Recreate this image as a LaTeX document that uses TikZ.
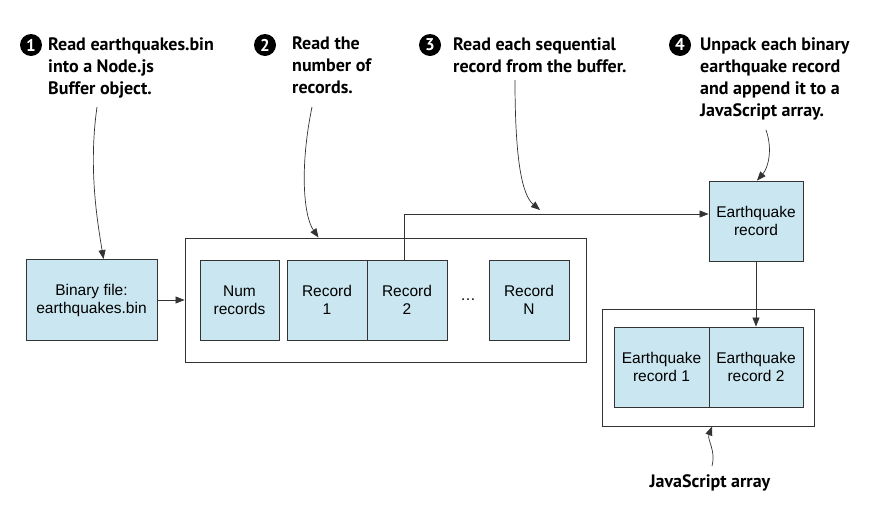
\documentclass[tikz,border=0pt]{standalone}
\usepackage{fontspec}
\setmainfont{Liberation Sans}
\newfontfamily\annfont{PT Sans}
\usetikzlibrary{arrows.meta}
\definecolor{boxblue}{HTML}{CAE6F0}
\definecolor{edgegray}{HTML}{333333}
\begin{document}
\begin{tikzpicture}[x=1pt,y=-1pt,
  bluebox/.style={draw=edgegray, fill=boxblue, line width=0.9pt, align=center, inner sep=0pt,
    font=\fontsize{15.5}{18}\selectfont},
  outerbox/.style={draw=edgegray, line width=0.9pt, inner sep=0pt},
  arr/.style={-{Triangle[length=9pt,width=7pt]}, line width=0.7pt, draw=edgegray},
  ann/.style={font=\annfont\bfseries\fontsize{18}{22}\selectfont, align=left, anchor=north west, inner sep=0pt},
  num/.style={circle, fill=black, text=white, inner sep=0pt, minimum size=22pt,
    font=\annfont\bfseries\fontsize{17}{17}\selectfont}]
\useasboundingbox (0,0) rectangle (872,512);

% boxes
\node[bluebox, minimum width=131pt, minimum height=81pt] (bin) at (91.5,300) {Binary file:\\earthquakes.bin};
\node[outerbox, minimum width=401pt, minimum height=124pt] (buf) at (385.5,300) {};
\node[bluebox, minimum width=79pt, minimum height=80pt] (num) at (239.5,300) {Num\\records};
\node[bluebox, minimum width=80pt, minimum height=80pt] (rec1) at (327,300) {Record\\1};
\node[bluebox, minimum width=80pt, minimum height=80pt] (rec2) at (407,300) {Record\\2};
\node[font=\fontsize{15.5}{18}\selectfont] (dots) at (468,300) {\ldots};
\node[bluebox, minimum width=80pt, minimum height=80pt] (recn) at (529,300) {Record\\N};

\node[bluebox, minimum width=94pt, minimum height=80pt] (eq) at (756,221) {Earthquake\\record};
\node[outerbox, minimum width=212pt, minimum height=117pt] (arr) at (708,367.5) {};
\node[bluebox, minimum width=95pt, minimum height=80pt] (eq1) at (661.5,367) {Earthquake\\record 1};
\node[bluebox, minimum width=94pt, minimum height=80pt] (eq2) at (756,367) {Earthquake\\record 2};

% connectors
\draw[arr] (bin.east) -- (buf.west);
\draw[arr] ([xshift=-3pt]rec2.north) |- ([yshift=7pt]eq.west);
\draw[arr] (eq.south) -- (eq2.north);

% annotations
\node[num] (n1) at (31,45) {1};
\node[ann] (a1) at (48,37) {Read earthquakes.bin\\into a Node.js\\Buffer object.};
\node[num] (n2) at (265,45) {2};
\node[ann] (a2) at (292,37) {Read the\\number of\\records.};
\node[num] (n3) at (430,45) {3};
\node[ann] (a3) at (453,37) {Read each sequential\\record from the buffer.};
\node[num] (n4) at (680,45) {4};
\node[ann] (a4) at (700,37) {Unpack each binary\\earthquake record\\and append it to a\\JavaScript array.};
\node[font=\annfont\bfseries\fontsize{18}{22}\selectfont] (jsl) at (710,483) {JavaScript array};

\coordinate (s1) at (97,107);
\coordinate (s2) at (312,107);
\coordinate (s3) at (515,80);
\coordinate (e3) at (540,210);
\coordinate (s4) at (766,130);
\coordinate (s5) at (712,466);

\draw[arr] (s1) .. controls (88,170) and (98,225) .. ([xshift=12pt]bin.north);
\draw[arr] (s2) .. controls (300,165) and (303,215) .. ([xshift=-67pt]buf.north);
\draw[arr] (s3) .. controls (515,160) and (522,195) .. (e3);
\draw[arr] (s4) .. controls (773,150) and (768,168) .. ([xshift=1pt]eq.north);
\draw[arr] (s5) .. controls (716,450) and (707,440) .. ([xshift=4pt]arr.south);
\end{tikzpicture}
\end{document}
